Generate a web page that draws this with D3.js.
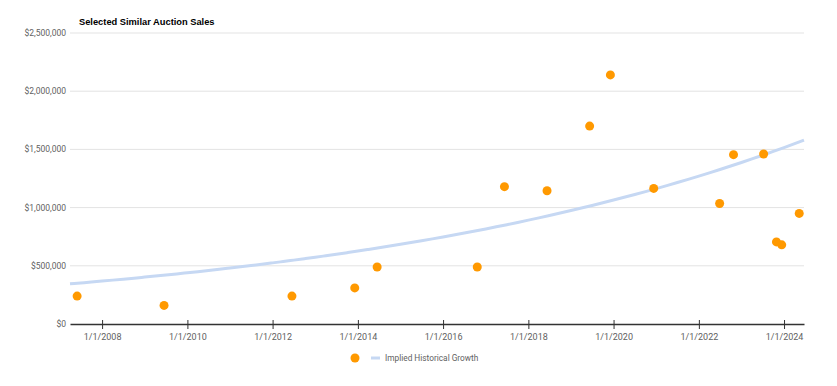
<!DOCTYPE html>
<html>
<head>
<meta charset="utf-8">
<script src="https://cdn.jsdelivr.net/npm/d3@7"></script>
<style>
  body { margin: 0; background: #fff; }
  svg { display: block; }
</style>
</head>
<body>
<svg class="canvas" width="837" height="386"></svg>
<script>
// sale dates and prices
const saleDates = [
  "2007-06-01", "2009-06-15", "2012-06-15", "2013-12-05", "2014-06-15",
  "2016-10-20", "2017-06-10", "2018-06-10", "2019-06-10", "2019-12-05",
  "2020-12-10", "2022-06-28", "2022-10-25", "2023-07-10", "2023-10-28",
  "2023-12-12", "2024-05-10"
];
const salePrices = [
  240000, 160000, 240000, 310000, 490000,
  490000, 1180000, 1145000, 1700000, 2140000,
  1165000, 1035000, 1455000, 1460000, 705000,
  680000, 950000
];
// implied growth curve: value at each end of the axis
const trendDates = ["2007-04-01", "2024-06-20"];
const trendValues = [345000, 1580000];
const yTicks = [0, 500000, 1000000, 1500000, 2000000, 2500000];
const xTickYears = [2008, 2010, 2012, 2014, 2016, 2018, 2020, 2022, 2024];
const trendLabel = "Implied Historical Growth";

const parse = d3.timeParse("%Y-%m-%d");
const sales = saleDates.map((d, i) => ({ date: parse(d), price: salePrices[i] }));

const svg = d3.select(".canvas");
const plotL = 70, plotR = 804, plotT = 33, plotB = 324;

const x = d3.scaleTime()
  .domain(trendDates.map(parse))
  .range([plotL, plotR]);
const y = d3.scaleLinear().domain([0, 2500000]).range([plotB, plotT]);

// gridlines
svg.append("g")
  .selectAll("line")
  .data(yTicks.slice(1))
  .enter()
  .append("line")
  .attr("x1", plotL)
  .attr("x2", plotR)
  .attr("y1", d => y(d))
  .attr("y2", d => y(d))
  .style("stroke", "#e3e3e3")
  .style("stroke-width", 1);

// y labels
svg.append("g")
  .selectAll("text")
  .data(yTicks)
  .enter()
  .append("text")
  .attr("x", plotL - 4)
  .attr("y", d => y(d) + 3)
  .attr("text-anchor", "end")
  .style("font-family", "Roboto, Arial, sans-serif")
  .style("font-size", "8.5px")
  .style("fill", "#616161")
  .text(d => "$" + d3.format(",")(d));

// exponential growth: log of value runs linearly in time
const logTrend = d3.scaleTime()
  .domain(trendDates.map(parse))
  .range(trendValues.map(Math.log));
const trend = x.ticks(80).concat(x.domain()).sort((a, b) => a - b)
  .map(d => ({ date: d, price: Math.exp(logTrend(d)) }));

svg.append("path")
  .datum(trend)
  .attr("d", d3.line().x(d => x(d.date)).y(d => y(d.price)).curve(d3.curveMonotoneX))
  .style("fill", "none")
  .style("stroke", "#c6d8f3")
  .style("stroke-width", 3);

// x axis
const xAxis = d3.axisBottom(x)
  .tickValues(xTickYears.map(yr => new Date(yr, 0, 1)))
  .tickFormat(d3.timeFormat("1/1/%Y"))
  .tickSize(5)
  .tickSizeOuter(0);
const gx = svg.append("g")
  .attr("transform", `translate(0,${plotB})`)
  .call(xAxis);
gx.select(".domain").style("stroke", "#333").style("stroke-width", 1.5);
gx.selectAll(".tick line").attr("y1", -4).style("stroke", "#333");
gx.selectAll(".tick text")
  .attr("dy", "0.71em")
  .attr("y", 10)
  .style("font-family", "Roboto, Arial, sans-serif")
  .style("font-size", "9px")
  .style("fill", "#616161");

// points
svg.append("g")
  .selectAll("circle")
  .data(sales)
  .enter()
  .append("circle")
  .attr("cx", d => x(d.date))
  .attr("cy", d => y(d.price))
  .attr("r", 4.5)
  .style("fill", "#ff9900");

// title
svg.append("text")
  .attr("x", 79)
  .attr("y", 25)
  .style("font-family", "Arial, 'Liberation Sans', sans-serif")
  .style("font-weight", "bold")
  .style("font-size", "9.3px")
  .style("fill", "#000")
  .text("Selected Similar Auction Sales");

// legend
const lg = svg.append("g").attr("transform", "translate(355,358)");
lg.append("circle").attr("r", 4.5).style("fill", "#ff9900");
lg.append("line")
  .attr("x1", 16).attr("x2", 25)
  .style("stroke", "#c6d8f3").style("stroke-width", 3);
lg.append("text")
  .attr("x", 30)
  .attr("y", 3)
  .style("font-family", "Roboto, Arial, sans-serif")
  .style("font-size", "8.3px")
  .style("fill", "#616161")
  .text(trendLabel);
</script>
</body>
</html>
